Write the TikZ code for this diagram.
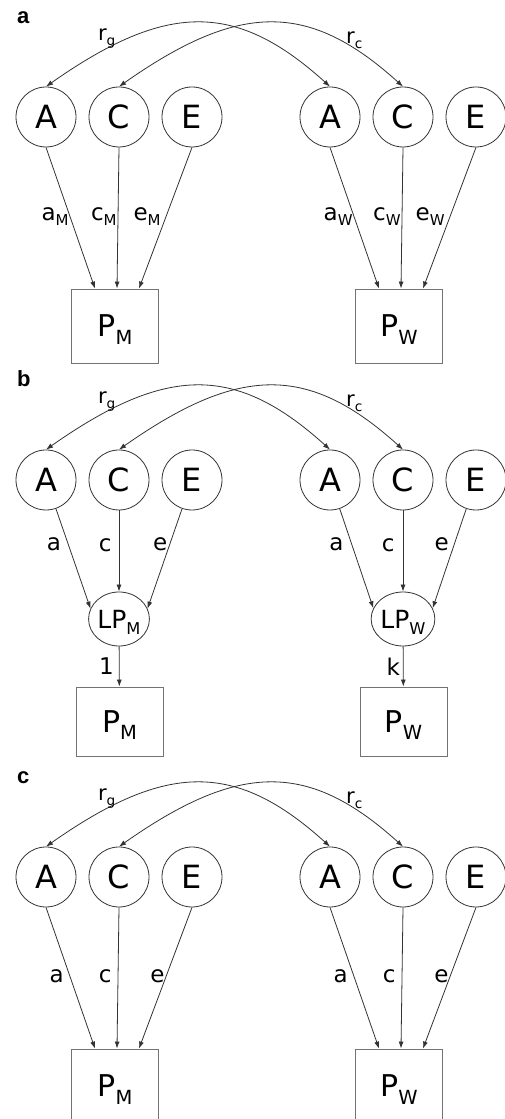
\documentclass[tikz,border=0pt]{standalone}
\usepackage{fontspec}
\setmainfont{DejaVu Sans}
\newfontfamily\panelfont{Liberation Sans}
\usetikzlibrary{arrows.meta}
\usetikzlibrary{shapes.geometric}
\definecolor{lineGrey}{gray}{0.2}
\definecolor{boxGrey}{gray}{0.45}
\newcommand{\subtxt}[1]{\raisebox{-.24em}{\scalebox{.65}{#1}}}
%% Latent A, C and E of both twins, with the two correlations.
\newcommand{\aceTop}[1]{%%
  \foreach \nm/\ltr/\xpos in {lA/A/46,lC/C/119,lE/E/192,rA/A/330,rC/C/403,rE/E/476}{%%
    \node[latentStyle] (#1\nm) at (\xpos,0) {\ltr};%%
  }
  \draw[corrStyle] (#1lA.north) .. controls +(121,85) and +(-94,85) .. (#1rA.north)
    node[corrLabel,pos=.18] {r\subtxt{g}};
  \draw[corrStyle] (#1lC.north) .. controls +(121,85) and +(-94,85) .. (#1rC.north)
    node[corrLabel,pos=.82] {r\subtxt{c}};
}
%% Direct paths from A, C and E to the observed phenotypes.
\newcommand{\directPaths}[5]{%%
  \node[obsStyle,minimum height=74pt] (#1PM) at (115,-209) {P\subtxt{M}};
  \node[obsStyle,minimum height=74pt] (#1PW) at (399,-209) {P\subtxt{W}};
  \draw[pathStyle] (#1lA.south) -- ([xshift=-20pt]#1PM.north)
    node[pathLabel,pos=.49,inner sep=#4] {a#2};
  \draw[pathStyle] (#1lC.south) -- ([xshift=2pt]#1PM.north)
    node[pathLabel,pos=.49,inner sep=#4] {c#2};
  \draw[pathStyle] (#1lE.south) -- ([xshift=24pt]#1PM.north)
    node[pathLabel,pos=.49,inner sep=#5] {e#2};
  \draw[pathStyle] (#1rA.south) -- ([xshift=-20pt]#1PW.north)
    node[pathLabel,pos=.49,inner sep=#4] {a#3};
  \draw[pathStyle] (#1rC.south) -- ([xshift=2pt]#1PW.north)
    node[pathLabel,pos=.49,inner sep=#4] {c#3};
  \draw[pathStyle] (#1rE.south) -- ([xshift=24pt]#1PW.north)
    node[pathLabel,pos=.49,inner sep=#5] {e#3};
}

\begin{document}
\begin{tikzpicture}[%%
  x=1pt,y=1pt,%%
  latentStyle/.style={circle,draw=lineGrey,line width=.8pt,minimum size=60pt,inner sep=0pt,%%
    text depth=0pt,font=\fontsize{32}{36}\selectfont},%%
  lpStyle/.style={ellipse,draw=lineGrey,line width=.8pt,minimum width=60pt,minimum height=54pt,%%
    inner sep=0pt,text depth=0pt,font=\fontsize{25}{30}\selectfont},%%
  obsStyle/.style={rectangle,draw=boxGrey,line width=.8pt,minimum width=87pt,inner sep=0pt,%%
    text depth=0pt,font=\fontsize{30}{36}\selectfont},%%
  corrStyle/.style={{Latex[length=7pt,width=5pt]}-{Latex[length=7pt,width=5pt]},%%
    lineGrey,line width=.8pt},%%
  corrLabel/.style={anchor=south,inner sep=0pt,text=black,font=\fontsize{21}{25}\selectfont},%%
  pathStyle/.style={-{Latex[length=7pt,width=5pt]},lineGrey,line width=.8pt},%%
  pathLabel/.style={anchor=east,text=black,font=\fontsize{23}{28}\selectfont},%%
  panelStyle/.style={anchor=base west,inner sep=0pt,font=\panelfont\bfseries\fontsize{22}{26}\selectfont}%%
]
%%
%%
\pgfmathsetmacro{\rowA}{1002}  %% Height of the A C E row, panel a.
\pgfmathsetmacro{\rowB}{639}   %% Same for panel b.
\pgfmathsetmacro{\rowC}{242}   %% Same for panel c.
\useasboundingbox (0,0) rectangle (505,1119);
\clip (0,0) rectangle (505,1119);
%%
%%
%% Panel a: direct paths with sex-specific estimates.
\begin{scope}[yshift=\rowA]
  \node[panelStyle] (aLabel) at (17,93) {a};
  \aceTop{a}
  \directPaths{a}{\subtxt{M}}{\subtxt{W}}{1pt}{5pt}
\end{scope}
%%
%% Panel b: paths through the latent phenotypes.
\begin{scope}[yshift=\rowB]
  \node[panelStyle] (bLabel) at (17,93) {b};
  \aceTop{b}
  \node[lpStyle] (bLPM) at (119,-139) {LP\subtxt{M}};
  \node[lpStyle] (bLPW) at (403,-139) {LP\subtxt{W}};
  \node[obsStyle,minimum height=69pt] (bPM) at (119.5,-241.5) {P\subtxt{M}};
  \node[obsStyle,minimum height=69pt] (bPW) at (403.5,-241.5) {P\subtxt{W}};
  \draw[pathStyle] (blA) -- (bLPM.160) node[pathLabel,pos=.36,inner sep=7pt] {a};
  \draw[pathStyle] (blC) -- (bLPM) node[pathLabel,pos=.43,inner sep=7pt] {c};
  \draw[pathStyle] (blE) -- (bLPM.20) node[pathLabel,pos=.36,inner sep=2pt] {e};
  \draw[pathStyle] (brA) -- (bLPW.160) node[pathLabel,pos=.36,inner sep=8pt] {a};
  \draw[pathStyle] (brC) -- (bLPW) node[pathLabel,pos=.43,inner sep=8pt] {c};
  \draw[pathStyle] (brE) -- (bLPW.20) node[pathLabel,pos=.36,inner sep=5pt] {e};
  \draw[pathStyle] (bLPM) -- (bPM) node[pathLabel,pos=.5,inner sep=5pt] {1};
  \draw[pathStyle] (bLPW) -- (bPW) node[pathLabel,pos=.5,inner sep=3pt] {k};
\end{scope}
%%
%% Panel c: direct paths, equal estimates.
\begin{scope}[yshift=\rowC]
  \node[panelStyle] (cLabel) at (17,93) {c};
  \aceTop{c}
  \directPaths{c}{}{}{6pt}{1pt}
\end{scope}
\end{tikzpicture}
\end{document}
